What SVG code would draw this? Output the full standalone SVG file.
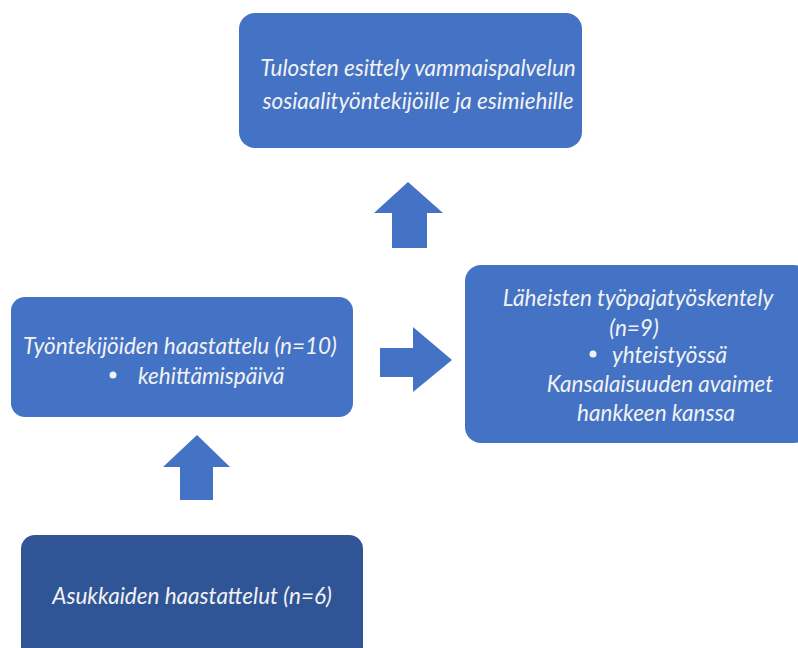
<svg xmlns="http://www.w3.org/2000/svg" width="798" height="648" viewBox="0 0 798 648">
<style>
.box{fill:#4472C4;}
.dark{fill:#2F5597;}
.arr{fill:#4472C4;}
text{font-family:Lato,"Liberation Sans",sans-serif;font-style:italic;font-size:22.5px;fill:#F2F2F2;dominant-baseline:central;}
.c{text-anchor:middle;}
</style>
<rect width="798" height="648" fill="#ffffff"/>
<g id="connectors">
<polygon class="arr" points="392,248 392,213 374,213 408,182 443,213 427,213 427,248"/>
<polygon class="arr" points="380,348 413,348 413,327 452,360 413,392 413,377 380,377"/>
<polygon class="arr" points="180,500 180,467 163,467 197,435 230,467 213,467 213,500"/>
</g>
<g id="node-tulosten">
<rect class="box" x="239" y="13" width="343" height="135" rx="16"/>
<text class="c" x="418" y="67">Tulosten esittely vammaispalvelun</text>
<text class="c" x="418" y="100">sosiaalityöntekijöille ja esimiehille</text>
</g>
<g id="node-tyontekijat">
<rect class="box" x="11" y="297" width="342" height="120" rx="14"/>
<text class="c" x="180" y="345">Työntekijöiden haastattelu (n=10)</text>
<circle cx="113" cy="375" r="3.5" fill="#F2F2F2"/>
<text x="138" y="375">kehittämispäivä</text>
</g>
<g id="node-laheiset">
<rect class="box" x="465" y="265" width="345" height="178" rx="16"/>
<text class="c" x="638" y="297">Läheisten työpajatyöskentely</text>
<text class="c" x="634" y="327">(n=9)</text>
<circle cx="593" cy="354" r="3.5" fill="#F2F2F2"/>
<text x="612" y="354">yhteistyössä</text>
<text class="c" x="660" y="383">Kansalaisuuden avaimet</text>
<text class="c" x="656" y="412">hankkeen kanssa</text>
</g>
<g id="node-asukkaat">
<rect class="dark" x="21" y="535" width="342" height="130" rx="14"/>
<text class="c" x="192" y="595">Asukkaiden haastattelut (n=6)</text>
</g>
</svg>
